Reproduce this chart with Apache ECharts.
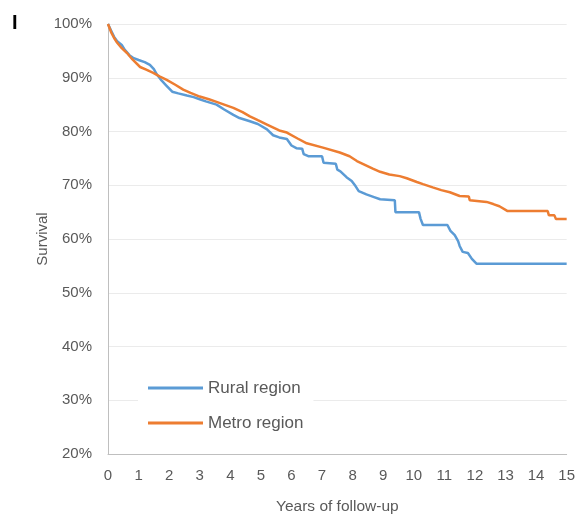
<!DOCTYPE html>
<html>
<head>
<meta charset="utf-8">
<script src="https://cdn.jsdelivr.net/npm/echarts@6/dist/echarts.min.js"></script>
<style>
html,body{margin:0;padding:0;background:#fff;}
#c{width:578px;height:520px;}
</style>
</head>
<body>
<div id="c"></div>
<script>
var seriesNames = ['Rural region', 'Metro region'];
var xTicks = [0, 15, 1];
var yTicks = [20, 100, 10];
var rural = [[0,100],[0.1,98.8],[0.2,97.6],[0.3,96.8],[0.45,96.1],[0.55,95.2],[0.7,94.2],[0.82,93.7],[1.0,93.3],[1.2,92.9],[1.37,92.4],[1.5,91.6],[1.6,90.6],[1.75,89.5],[1.9,88.6],[2.1,87.4],[2.3,87.1],[2.58,86.7],[2.8,86.4],[3.0,86.0],[3.2,85.6],[3.55,85.0],[3.8,84.1],[4.1,83.1],[4.3,82.5],[4.64,81.9],[4.9,81.4],[5.2,80.4],[5.4,79.3],[5.6,78.9],[5.85,78.6],[6.0,77.4],[6.16,76.9],[6.35,76.8],[6.4,75.8],[6.55,75.4],[7.0,75.4],[7.05,74.2],[7.45,74.0],[7.5,72.9],[7.6,72.6],[7.8,71.5],[7.97,70.8],[8.1,69.8],[8.2,68.9],[8.45,68.3],[8.7,67.8],[8.9,67.4],[9.38,67.2],[9.4,65.0],[10.17,65.0],[10.22,63.8],[10.3,62.6],[11.1,62.6],[11.2,61.5],[11.34,60.7],[11.45,59.6],[11.5,58.7],[11.6,57.6],[11.77,57.4],[11.9,56.3],[12.05,55.4],[15,55.4]];
var metro = [[0,100],[0.1,98.5],[0.2,97.4],[0.3,96.5],[0.45,95.5],[0.62,94.6],[0.8,93.4],[1.05,92.0],[1.25,91.5],[1.48,90.9],[1.7,90.2],[1.92,89.6],[2.2,88.7],[2.46,87.8],[2.7,87.2],[3.0,86.5],[3.3,86.0],[3.55,85.5],[3.8,85.0],[4.1,84.4],[4.4,83.6],[4.64,82.8],[4.9,82.1],[5.2,81.3],[5.6,80.2],[5.85,79.8],[6.2,78.7],[6.5,77.8],[7.03,77.0],[7.58,76.1],[7.9,75.4],[8.14,74.5],[8.4,73.8],[8.66,73.1],[8.9,72.5],[9.2,72.0],[9.54,71.7],[9.77,71.3],[10.1,70.6],[10.3,70.2],[10.62,69.6],[10.9,69.1],[11.18,68.7],[11.5,68.0],[11.8,67.9],[11.83,67.2],[12.38,66.9],[12.6,66.5],[12.8,66.1],[13.07,65.2],[14.38,65.2],[14.42,64.4],[14.6,64.4],[14.65,63.7],[15,63.7]];

var chart = echarts.init(document.getElementById('c'), null, {renderer:'canvas'});
var txt = '#595959';
var ff = '"Liberation Sans", Arial, sans-serif';
chart.setOption({
  animation: false,
  backgroundColor: '#fff',
  textStyle: {fontFamily: ff},
  title: {text: 'I', left: 7, top: 8, textStyle: {fontSize: 20, fontWeight: 'bold', color: '#000', fontFamily: ff}},
  grid: {left: 108, right: 10, top: 24, bottom: 64, containLabel: false},
  legend: {
    orient: 'vertical', left: 138, top: 373, padding: [5, 10],
    backgroundColor: '#fff', itemWidth: 55, itemHeight: 3, itemGap: 15,
    icon: 'rect', data: seriesNames,
    textStyle: {fontSize: 17, color: txt, lineHeight: 20, fontFamily: ff}
  },
  xAxis: {
    type: 'value', min: xTicks[0], max: xTicks[1], interval: xTicks[2],
    name: 'Years of follow-up', nameLocation: 'middle', nameGap: 45,
    nameTextStyle: {fontSize: 15.5, color: txt, fontFamily: ff},
    axisLine: {show: true, lineStyle: {color: '#BFBFBF', width: 1}},
    axisTick: {show: false},
    axisLabel: {fontSize: 15, color: txt, margin: 14, fontFamily: ff},
    splitLine: {show: false}
  },
  yAxis: {
    type: 'value', min: yTicks[0], max: yTicks[1], interval: yTicks[2],
    name: 'Survival', nameLocation: 'middle', nameGap: 58, nameMoveOverlap: false,
    nameTextStyle: {fontSize: 15, color: txt, fontFamily: ff},
    axisLine: {show: true, lineStyle: {color: '#BFBFBF', width: 1}},
    axisTick: {show: false},
    axisLabel: {fontSize: 15, color: txt, margin: 16, formatter: '{value}%', fontFamily: ff},
    splitLine: {show: true, lineStyle: {color: '#EBEBEB', width: 1}}
  },
  series: [
    {name: seriesNames[0], type: 'line', data: rural, showSymbol: false, symbol: 'none',
     lineStyle: {color: '#5B9BD5', width: 2.5}, itemStyle: {color: '#5B9BD5'}, z: 2},
    {name: seriesNames[1], type: 'line', data: metro, showSymbol: false, symbol: 'none',
     lineStyle: {color: '#ED7D31', width: 2.5}, itemStyle: {color: '#ED7D31'}, z: 3}
  ]
});
</script>
</body>
</html>
